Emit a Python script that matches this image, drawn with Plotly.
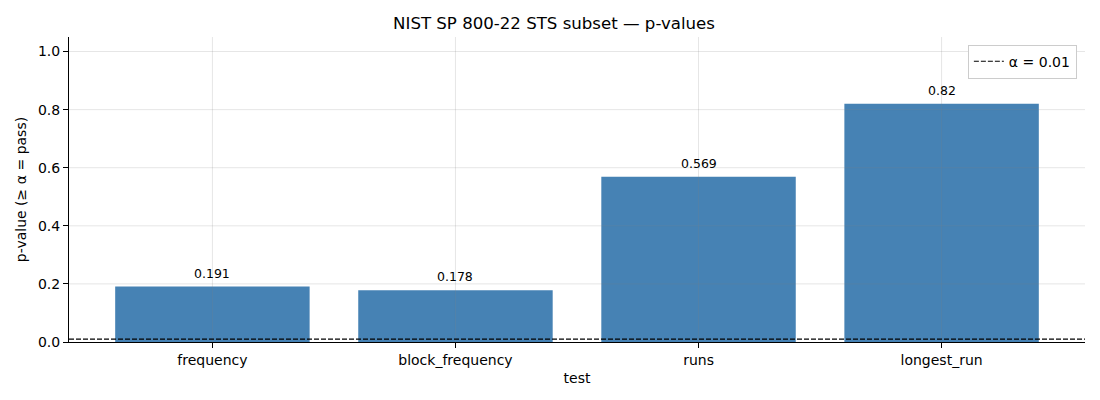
import plotly.graph_objects as go

tests = ["frequency", "block_frequency", "runs", "longest_run"]
p_values = [0.191, 0.178, 0.569, 0.82]
alpha = 0.01
y_ticks = [0, 0.2, 0.4, 0.6, 0.8, 1.0]

GRID = "rgba(128,128,128,0.2)"

fig = go.Figure()

fig.add_trace(go.Bar(
    x=tests,
    y=p_values,
    width=0.8,
    marker_color="#4682b4",
    marker_line_width=0,
    showlegend=False,
))

# value labels above each bar
for t, v in zip(tests, p_values):
    fig.add_annotation(
        x=t, y=v, text=f"{v:g}", showarrow=False,
        yanchor="bottom", yshift=4,
        font=dict(size=12.5, color="black"),
    )

# grid drawn over the bars (like matplotlib's default zorder here)
for t in tests:
    fig.add_shape(type="line", xref="x", yref="paper", x0=t, x1=t, y0=0, y1=1,
                  line=dict(color=GRID, width=1), layer="above")
for yv in y_ticks[1:]:
    fig.add_shape(type="line", xref="paper", yref="y", x0=0, x1=1, y0=yv, y1=yv,
                  line=dict(color=GRID, width=1), layer="above")

# legend entry for the threshold line
fig.add_trace(go.Scatter(
    x=[None], y=[None], mode="lines",
    line=dict(color="black", dash="5px,2px", width=1.2),
    name=f"α = {alpha}",
))

fig.add_shape(
    type="line", xref="paper", yref="y",
    x0=0, x1=1, y0=alpha, y1=alpha,
    line=dict(color="black", dash="5px,2px", width=1.2),
    layer="above",
)

fig.update_layout(
    width=1092, height=392,
    margin=dict(l=58, r=15, t=29, b=58),
    paper_bgcolor="white", plot_bgcolor="white",
    font=dict(family="DejaVu Sans", size=14, color="black"),
    title=dict(text="NIST SP 800-22 STS subset — p-values",
               x=0.5, xanchor="center", y=0.962, yanchor="middle",
               font=dict(size=16.6)),
    showlegend=True,
    legend=dict(x=0.992, y=0.975, xanchor="right", yanchor="top",
                bgcolor="white", bordercolor="#cccccc", borderwidth=1,
                font=dict(size=14)),
)

fig.update_xaxes(
    title=dict(text="test", font=dict(size=14), standoff=6),
    range=[-0.59, 3.59],
    showline=True, linecolor="black", linewidth=1,
    ticks="outside", ticklen=5, tickcolor="black",
    showgrid=False,
    zeroline=False,
)
fig.update_yaxes(
    title=dict(text="p-value (≥ α = pass)", font=dict(size=14), standoff=8),
    range=[0, 1.05],
    tickvals=y_ticks,
    tickformat=".1f",
    showline=True, linecolor="black", linewidth=1,
    ticks="outside", ticklen=5, tickcolor="black",
    showgrid=False,
    zeroline=False,
)

fig.write_html("out.html")
